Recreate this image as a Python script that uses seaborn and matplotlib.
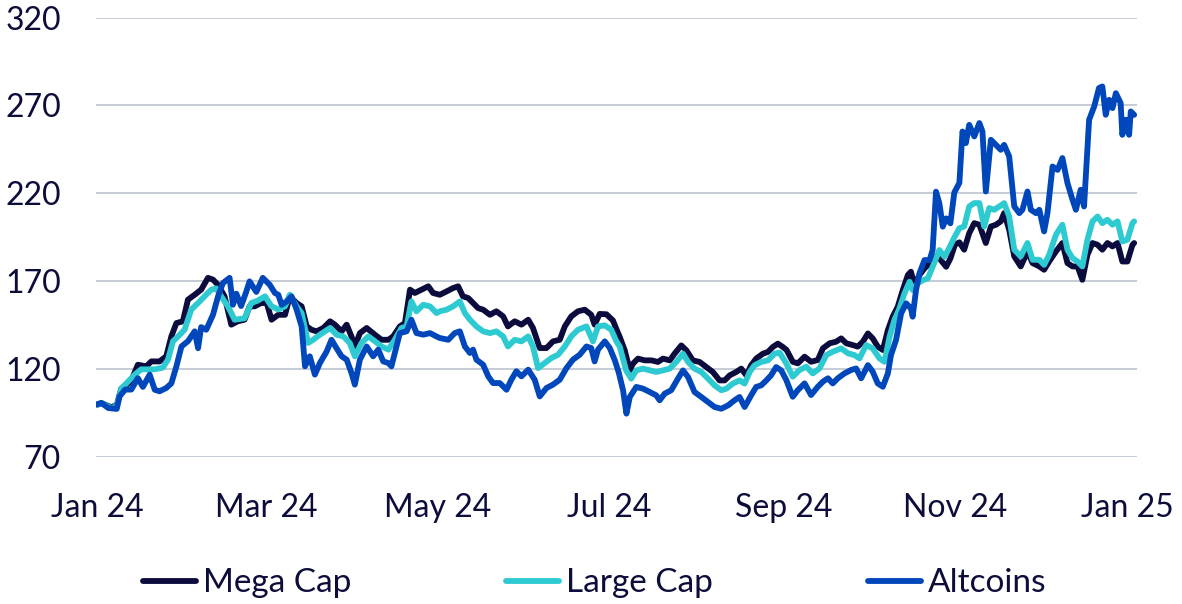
import matplotlib
matplotlib.use("Agg")
import matplotlib.pyplot as plt
import matplotlib.dates as mdates
import pandas as pd
import seaborn as sns

# index levels (Jan 1 2024 = 100); days counted from Jan 1 2024
mega_days = [0, 2, 5, 7, 8.6, 12, 14.5, 17.5, 19.3, 22.2, 24.6, 26.4, 28.2, 30.5, 32.3, 34.7, 37, 39.4, 41.2, 43,
             45.3, 47.7, 50, 52.4, 54.2, 56, 58.3, 60.3, 62, 64.4, 66.8, 68.5, 70.9, 72.7, 74.5, 76.2, 78, 80.4,
             82.8, 84.5, 86.9, 88.7, 90.4, 91.6, 93.4, 95.8, 98.7, 101.1, 103.5, 105.2, 107.6, 109.4, 111.2, 112.9,
             115.3, 117.7, 119.4, 121.8, 124.2, 126.5, 128.3, 130, 131.9, 133.6, 135.4, 137.2, 139.6, 141.9, 144.3,
             146, 148.4, 150.8, 153.2, 154.9, 157.3, 159.7, 162, 164.4, 166.2, 168.5, 170.9, 173.3, 175.6, 176.8,
             178.6, 181, 183.3, 184.5, 185.7, 187.5, 189.3, 190.4, 192.2, 194.6, 197, 199.3, 201.1, 203.5, 205.2,
             207.6, 209.4, 211.7, 214.1, 216.5, 218.8, 221.2, 223, 224.8, 227.1, 228.9, 230.7, 232.4, 234.2, 236.6,
             238.4, 240.1, 241.9, 243.7, 245, 247.2, 249, 251.4, 253.7, 256.1, 257.9, 260.3, 262.6, 264.4, 266.2,
             268.5, 270.3, 272.1, 273.9, 275.6, 277.4, 279.2, 281, 282.7, 284.5, 286.3, 288.1, 289.2, 290.4, 292.2,
             294, 295.8, 297.5, 299.3, 301.7, 303.2, 304.8, 306.4, 308.1, 309.9, 311.7, 313.5, 315.8, 317.6, 319.4,
             321.1, 322.3, 324.1, 325.9, 328.2, 330.6, 332.4, 334.8, 336.5, 338.3, 340.7, 343, 344.8, 346.6, 348.4,
             350.1, 351.9, 353.7, 355.5, 357.2, 359, 360.8, 362.6, 364.3, 366.1, 367.9, 368.5]
mega_vals = [100, 100.5, 98.5, 99.5, 109, 113, 122.6, 121.7, 124.5, 124.5, 127.4, 138.7, 146.3, 147.3, 159.6, 162.4,
             165.3, 172, 171, 168, 161.5, 145.4, 147.3, 148.2, 155.8, 155.8, 157.7, 157.7, 148.2, 151, 151, 161.5,
             157.7, 155.8, 144.4, 142.5, 141.6, 143.5, 147.3, 145.4, 141.6, 145.4, 138.7, 133, 140.6, 143.5, 139.7,
             136.8, 136.8, 138.7, 144.4, 146.3, 165.3, 163.4, 165.3, 167.2, 163.4, 162.4, 164.3, 166.2, 167.2, 161.5,
             160.5, 157.7, 154.8, 153.9, 151, 153, 150.1, 144.4, 147.3, 145.4, 148.2, 143.5, 132.1, 132.1, 135.9,
             136.8, 144.4, 150.1, 153, 153.9, 151, 145.4, 151.5, 151.3, 147.8, 143, 138.5, 130.8, 119.4, 123.2,
             126.1, 125.1, 125.1, 124.2, 126.1, 125.1, 128.9, 133.6, 130.8, 125.1, 124.2, 121.3, 118.5, 113.7, 113.7,
             116.6, 118.5, 120.4, 116.6, 122.3, 126.1, 128.9, 129.9, 132.7, 134.6, 132.7, 131, 124.3, 123.4, 127.2,
             124.3, 125.3, 131.9, 134.8, 135.7, 137.6, 134.8, 133.8, 132.9, 135.7, 140.4, 137.6, 132.9, 131, 142.3,
             149.9, 155.6, 165.1, 173.6, 175.5, 167.9, 173.6, 177.4, 180.2, 184, 183.1, 178.3, 183, 190.8, 192.2,
             188, 197.4, 203.1, 202.2, 191.8, 201.2, 202.2, 204.1, 208.8, 199.3, 184.2, 178.5, 187, 180.4, 178.5,
             176.6, 181.3, 187, 191.8, 180.4, 178.5, 178.5, 170.9, 185.1, 191.8, 190.8, 188, 191.8, 189.9, 191.8,
             181.3, 181.3, 190.8, 191.8]

large_days = [0, 2, 5, 7, 8.6, 13.4, 15.7, 20.5, 23.4, 25.2, 27, 28.8, 31.1, 33.5, 35.9, 38.2, 40.6, 42.4, 44.1,
              46.5, 48.9, 52.4, 54.8, 57, 59.7, 62, 64.4, 66.8, 68.5, 70.9, 72.7, 75, 76.8, 79.2, 82.8, 85.1, 87.5,
              89.8, 91.6, 94, 96.4, 98.7, 101.1, 103.5, 105.8, 108.2, 110, 111.7, 113.5, 115.9, 118.3, 120.6, 121.8,
              124.2, 126.5, 128.9, 130.7, 132.5, 134.8, 137.2, 139.6, 141.9, 144.3, 146, 148.4, 150.8, 153.2, 154.9,
              156.7, 159.1, 161.4, 163.8, 166.2, 168.5, 170.9, 173.9, 176.2, 178, 180.4, 182.7, 184.5, 185.7, 188,
              189.8, 191.6, 194, 196.4, 198.7, 201.1, 203.5, 205.8, 208.2, 210, 212.3, 214.7, 217.1, 219.4, 221.8,
              223.6, 225.9, 228.3, 230.1, 231.9, 233.6, 236, 238.4, 240.7, 242.5, 244.9, 247.2, 249.6, 252, 254.3,
              256.7, 259.1, 261.4, 264.4, 266.8, 269.1, 270.9, 273.3, 275.6, 278, 279.8, 281.6, 283.3, 285.1, 286.9,
              288.7, 289.8, 291.6, 293.4, 295.2, 296.9, 299.3, 301.1, 302.8, 304.6, 306.4, 308.1, 309.9, 311.7,
              313.5, 315.2, 317, 318.8, 320.6, 322.3, 324.1, 325.9, 328.2, 330.6, 332.4, 334.8, 336.5, 338.3, 340.7,
              343, 344.8, 346.6, 348.4, 350.1, 351.9, 353.7, 355.5, 357.2, 359, 360.8, 362.6, 364.3, 366.1, 367.9,
              368.5]
large_vals = [100, 100.5, 98, 99, 109, 117, 120, 120, 121, 125.5, 136, 138.7, 142.5, 154, 157.7, 161.5, 165.3, 166,
              161.5, 155.8, 148.2, 149, 157.7, 159, 161.5, 155.8, 154, 155.8, 162.4, 155.8, 152, 135, 136.8, 139.7,
              143.5, 139.7, 138.7, 135, 127.4, 135, 138.7, 136, 133, 131.2, 136.8, 143.5, 144.4, 158.6, 153, 156.7,
              155.8, 152, 153, 153.9, 155.8, 158.6, 152, 148.2, 144.4, 141.6, 140.6, 141.6, 138.7, 133, 136.8, 135.9,
              138.7, 133, 120.7, 123.6, 126.4, 128.3, 133, 138.7, 142.5, 144.4, 135.9, 144.4, 145, 142.5, 136, 133,
              119.4, 114.7, 119.4, 120.4, 119.4, 118.5, 119.4, 120.4, 124.2, 128.9, 124.2, 120.4, 118.5, 114.7,
              110.9, 108.1, 109, 111.9, 113.7, 111.9, 118.5, 122.3, 124.2, 125.1, 128.9, 129.5, 123.4, 115.8, 119.6,
              121.5, 117.7, 120.5, 128.1, 130, 131.9, 129.1, 128.1, 126.2, 133.8, 131.9, 126.2, 124.3, 138.5, 148,
              154.6, 163.2, 169.8, 165.1, 168.9, 170.7, 171.7, 178.3, 187.8, 184, 189, 195, 200.2, 201.2, 212.6,
              214.5, 214.5, 201.2, 211.7, 210.7, 212.6, 214.5, 206.9, 188, 184.2, 191.8, 182.3, 182.3, 179.4, 185.1,
              196.5, 202.2, 188, 183.2, 181.3, 178.5, 193.7, 204.1, 206.9, 203.1, 205, 202.2, 204.1, 192.7, 193.7,
              203.1, 204.1]

alt_days = [0, 1.5, 4, 7, 8, 10, 12.2, 14.5, 16.3, 18.7, 20.5, 22.2, 24.6, 26.4, 28.2, 30, 32.3, 34.7, 35.9, 37,
            38.8, 41.2, 43, 44.7, 47.1, 48.3, 49.5, 51.2, 53, 54.2, 56.6, 58.9, 61.4, 63.2, 64.4, 65.6, 67.4, 69.1,
            70.9, 72.7, 73.9, 75.6, 77.4, 79.2, 81.6, 83.3, 85.1, 86.9, 88.7, 90.4, 91.6, 93.4, 95.8, 98.1, 99.9,
            101.7, 103.5, 104.6, 106.4, 107.6, 110, 111.7, 113.5, 115.9, 118.3, 120.6, 121.8, 124.8, 127.1, 128.9,
            130.7, 132.5, 133.6, 134.8, 137.2, 139, 140.7, 143.1, 145.5, 147.2, 149, 150.8, 153.2, 155.5, 157.3,
            159.7, 162, 164.4, 166.8, 169.1, 171.5, 173.9, 175.6, 176.8, 178, 180.4, 182.2, 184, 185.4, 186.9,
            188.1, 189.3, 191.6, 194, 196.4, 198.7, 199.9, 201.7, 204, 206.4, 208.2, 210, 212.3, 214.7, 217.1,
            219.4, 221.8, 224.2, 226.5, 228.3, 230.1, 232.4, 234.2, 236, 237.8, 239.5, 241.3, 243.1, 244.9, 247.2,
            249, 251.4, 253.7, 256.1, 257.9, 259.7, 261.4, 263.2, 265.6, 267.9, 269.7, 271.5, 273.9, 275.6, 277.4,
            279.2, 281, 282.1, 283.9, 285.7, 287.5, 289.2, 289.8, 291, 292.2, 294, 295.8, 296.9, 298.1, 299.3,
            300.5, 301.7, 303.2, 304.6, 306.4, 307.5, 308.7, 309.9, 311.7, 313.5, 314.6, 315.8, 317.6, 319.4,
            321.1, 322.3, 324.1, 325.9, 327.7, 328.8, 330.6, 331.8, 333.6, 334.8, 336.5, 337.7, 339.5, 341.3, 343,
            344.8, 346.6, 347.8, 349.5, 350.7, 352.5, 354.3, 356, 357.2, 358.4, 359.6, 360.8, 362, 363.7, 364.3,
            365.5, 366.7, 367.3, 368.5]
alt_vals = [100, 101, 98, 97.5, 104.6, 108.5, 108.5, 115, 110, 117, 108.4, 107.5, 109.4, 112, 121.7, 133, 136, 141.6,
            132, 144, 142.5, 151, 161.5, 169, 172, 156.7, 163, 156, 164, 170, 164, 172, 168, 163.4, 162.4, 156.7,
            158.6, 161.5, 154, 144.4, 121.7, 127.4, 117, 123.6, 130.2, 136.8, 132, 127.4, 125.5, 118, 111.3, 125.5,
            133, 127.4, 131.2, 124.5, 123.6, 121.7, 133, 140.6, 141.6, 148.2, 140.6, 139.7, 140.6, 138.7, 137.8,
            136.8, 140.6, 141.6, 133, 129.3, 131.2, 125.5, 122.6, 116, 112.2, 112.2, 108.4, 114.1, 118.9, 116,
            119.8, 114.1, 104.6, 109.4, 111.3, 114.1, 120.7, 125.5, 128.3, 133, 132.1, 124.5, 131.2, 135.9, 132.1,
            125, 118, 108.1, 94.8, 104.3, 110, 109, 107.1, 105.2, 102.4, 106.2, 108.1, 114.7, 119.4, 115.6, 107.1,
            104.3, 101.4, 98.6, 97.6, 99.5, 102.4, 104.3, 98.6, 105.2, 110, 110.9, 113.7, 116.6, 121.3, 119.4,
            113.9, 104.4, 108.2, 112, 105.4, 110.1, 113, 114.9, 112, 114.9, 117.7, 119.6, 120.5, 114.9, 122.4,
            118.7, 112, 110.1, 117.7, 128.1, 136.7, 151.8, 157.5, 154.6, 149.9, 165.1, 174.5, 182.1, 182.1, 187.8,
            221, 214.3, 201.1, 205.8, 203, 220.5, 226, 255.2, 248.6, 259, 252.4, 260, 255.2, 221.1, 250.5, 247.6,
            244.8, 247.6, 241, 212.6, 208.8, 210.7, 221.1, 210.7, 208.8, 210.7, 198.4, 208.8, 235.3, 233.4, 240.1,
            225.9, 216.4, 210.7, 222.1, 212.6, 261.9, 269.4, 279.9, 280.8, 264.7, 273.2, 268.5, 277, 271.3, 253.3,
            261.9, 253.3, 266.6, 264.7]

series_names = ["Mega Cap", "Large Cap", "Altcoins"]
colors = ["#0b0b3d", "#2ecad2", "#0047bb"]
tick_dates = ["2024-01-01", "2024-03-01", "2024-05-01", "2024-07-01", "2024-09-01", "2024-11-01", "2025-01-01"]
y_ticks = [70, 120, 170, 220, 270, 320]

start = pd.Timestamp("2024-01-01")
frames = []
for name, d, v in zip(series_names, [mega_days, large_days, alt_days], [mega_vals, large_vals, alt_vals]):
    frames.append(pd.DataFrame({"date": start + pd.to_timedelta(d, unit="D"), "value": v, "series": name}))
df = pd.concat(frames, ignore_index=True)

sns.set_theme(style="white")
plt.rcParams["font.family"] = ["Lato", "DejaVu Sans"]
text_color = "#0d0d3b"

fig = plt.figure(figsize=(11.82, 6.04), dpi=100)
ax = fig.add_axes([0.0809, 0.2429, 0.881, 0.7281])

sns.lineplot(data=df, x="date", y="value", hue="series", hue_order=series_names,
             palette=colors, linewidth=4.2, estimator=None, sort=False, ax=ax)

ax.set_ylim(70, 320)
ax.set_yticks(y_ticks)
ax.set_xlim(start - pd.Timedelta(hours=12), start + pd.Timedelta(days=369.5))
ax.set_xticks(pd.to_datetime(tick_dates))
ax.xaxis.set_major_formatter(mdates.DateFormatter("%b %y"))
ax.grid(axis="y", color="#bcc3ce", linewidth=1.2)
ax.grid(axis="x", visible=False)
ax.set_axisbelow(True)
for s in ax.spines.values():
    s.set_visible(False)
ax.tick_params(axis="y", length=0, pad=25, labelsize=23, labelcolor=text_color)
ax.tick_params(axis="x", length=0, pad=26, labelsize=23, labelcolor=text_color)
ax.set_xlabel("")
ax.set_ylabel("")

ax.get_legend().remove()
handles, labels = ax.get_legend_handles_labels()
leg = fig.legend(handles, labels, loc="center", bbox_to_anchor=(0.503, 0.034), ncol=3, frameon=False,
                 fontsize=24, handlelength=1.6, handletextpad=0.2, columnspacing=4.65)
for t in leg.get_texts():
    t.set_color(text_color)
for h in leg.get_lines():
    h.set_linewidth(4.2)

fig.savefig("out.png", dpi=100)
